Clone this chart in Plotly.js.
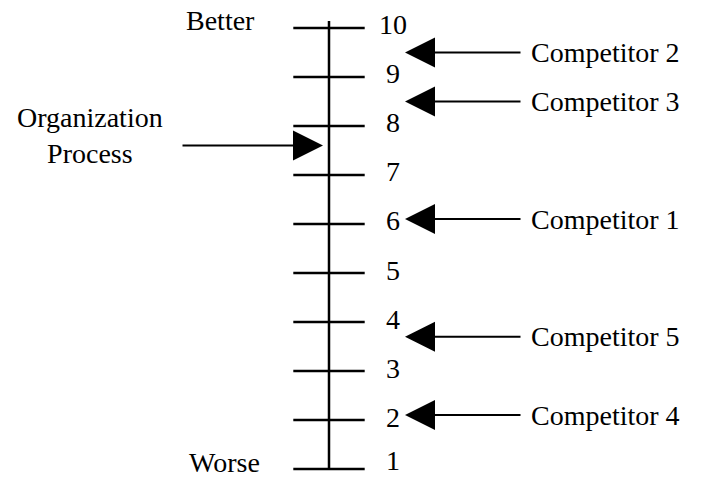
<!DOCTYPE html>
<html>
<head>
<meta charset="utf-8">
<script src="https://cdn.plot.ly/plotly-3.0.1.min.js"></script>
<style>
  html, body { margin: 0; padding: 0; background: #fff; }
  #chart { width: 707px; height: 477px; }
</style>
</head>
<body>
<div id="chart"></div>
<script>
// Données de l'échelle
const scaleValues = [1, 2, 3, 4, 5, 6, 7, 8, 9, 10];
const scaleLabels = ['1', '2', '3', '4', '5', '6', '7', '8', '9', '10'];

// Concurrents et leur position sur l'échelle
const competitors = ['Competitor 1', 'Competitor 2', 'Competitor 3', 'Competitor 4', 'Competitor 5'];
const competitorScores = [6.1, 9.5, 8.5, 2.1, 3.7];

// Processus de l'organisation
const orgLabel = 'Organization<br>Process';
const orgScore = 7.6;

const topLabel = 'Better';
const bottomLabel = 'Worse';

// Repères horizontaux (unités = pixels de la figure)
const axisX = 329;
const numberX = 393;
const headX = 405;
const tailX = 522;
const textX = 529;

const font = { family: 'Liberation Serif, Times New Roman, serif', size: 28, color: '#000' };

const CHART = document.getElementById('chart');

const lo = Math.min(...scaleValues);
const hi = Math.max(...scaleValues);

const traces = [
    {
        // ligne verticale
        x: [axisX, axisX],
        y: [lo, hi + 0.14],
        type: 'scatter',
        mode: 'lines',
        line: { color: '#000', width: 2.5 },
        hoverinfo: 'skip'
    },
    {
        // graduations
        x: scaleValues.map(() => axisX),
        y: scaleValues,
        type: 'scatter',
        mode: 'markers',
        marker: { symbol: 'line-ew', size: 51, line: { color: '#000', width: 2.5 } },
        hoverinfo: 'skip'
    }
];

const annotations = [];

// Numéros de l'échelle (le plus bas est remonté pour rester dans le cadre)
scaleValues.forEach((v, i) => {
    annotations.push({
        x: numberX, y: v, xref: 'x', yref: 'y',
        text: scaleLabels[i], showarrow: false,
        xanchor: 'center', yanchor: 'middle', yshift: v === lo ? 9 : 3,
        font: font
    });
});

// Flèches des concurrents
competitors.forEach((name, i) => {
    annotations.push({
        x: headX, y: competitorScores[i], xref: 'x', yref: 'y',
        ax: tailX, ay: competitorScores[i], axref: 'x', ayref: 'y',
        text: '', showarrow: true,
        arrowhead: 2, arrowsize: 3, arrowwidth: 2, arrowcolor: '#000'
    });
    annotations.push({
        x: textX, y: competitorScores[i], xref: 'x', yref: 'y',
        text: name, showarrow: false,
        xanchor: 'left', yanchor: 'middle',
        font: font
    });
});

// Flèche de l'organisation
annotations.push({
    x: 323, y: orgScore, xref: 'x', yref: 'y',
    ax: 181, ay: orgScore, axref: 'x', ayref: 'y',
    text: '', showarrow: true,
    arrowhead: 2, arrowsize: 3, arrowwidth: 2, arrowcolor: '#000'
});
annotations.push({
    x: 90, y: orgScore + 0.2, xref: 'x', yref: 'y',
    text: orgLabel, showarrow: false,
    xanchor: 'center', yanchor: 'middle', align: 'center',
    font: font
});

// Meilleur / Pire
annotations.push({
    x: 220, y: hi + 0.16, xref: 'x', yref: 'y',
    text: topLabel, showarrow: false, xanchor: 'center', yanchor: 'middle', font: font
});
annotations.push({
    x: 224, y: lo + 0.14, xref: 'x', yref: 'y',
    text: bottomLabel, showarrow: false, xanchor: 'center', yanchor: 'middle', font: font
});

Plotly.newPlot(CHART, traces, {
    width: 707,
    height: 477,
    margin: { l: 0, r: 0, t: 0, b: 0 },
    paper_bgcolor: '#fff',
    plot_bgcolor: '#fff',
    showlegend: false,
    xaxis: { range: [0, 707], visible: false, fixedrange: true },
    yaxis: { range: [0.837, 10.571], visible: false, fixedrange: true },
    annotations: annotations
}, {
    displayModeBar: false,
    staticPlot: true
});
</script>
</body>
</html>
